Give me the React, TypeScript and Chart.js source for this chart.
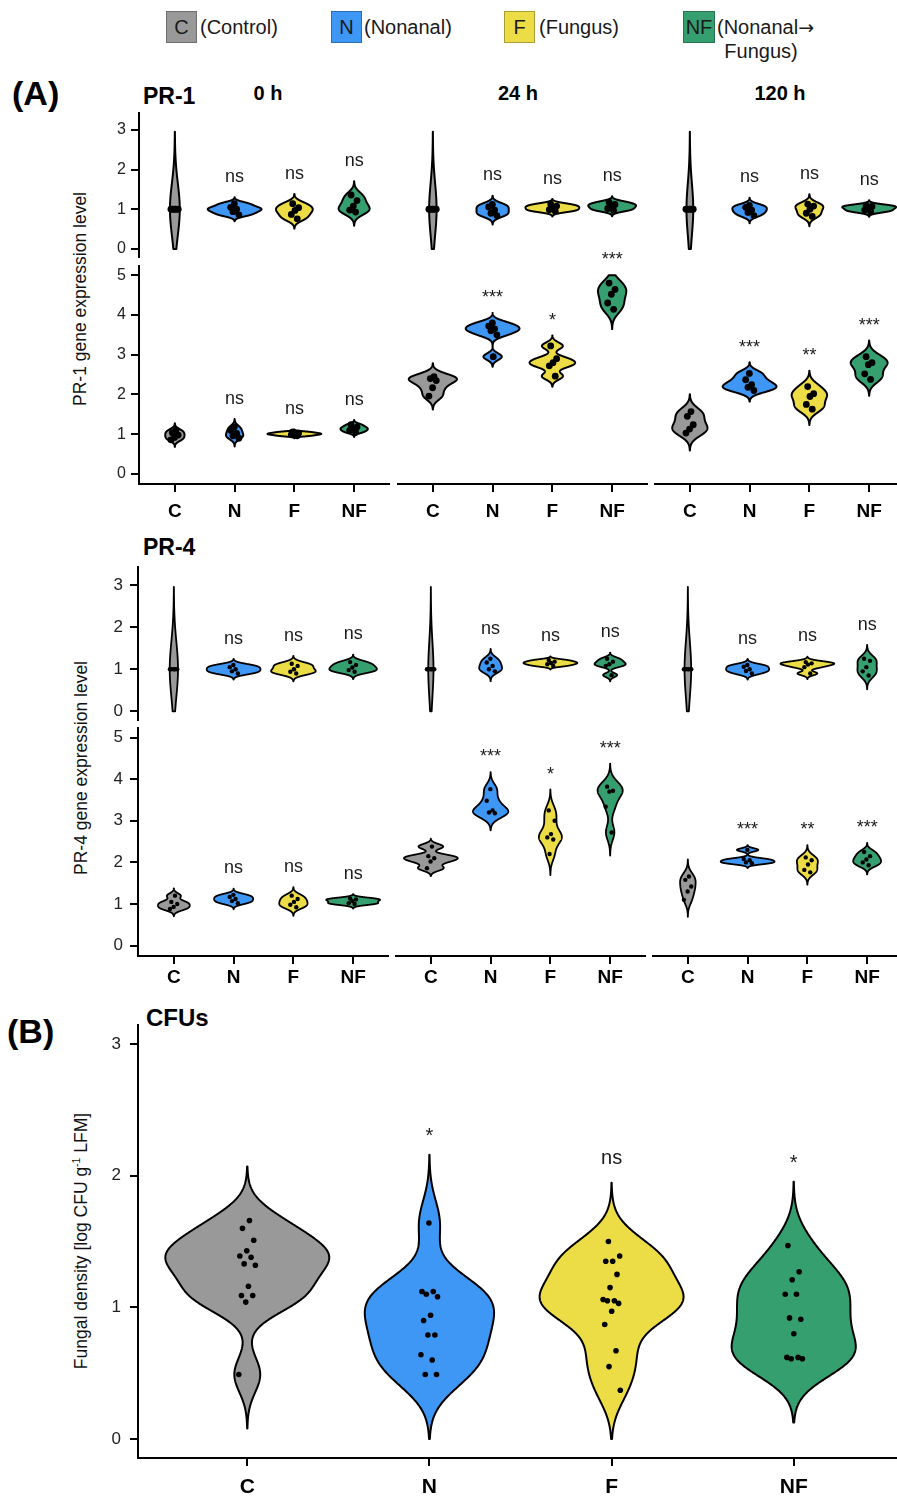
import React, { useEffect, useRef } from "react";
import { Chart, registerables } from "chart.js";

Chart.register(...registerables);

const FONT = '"Liberation Sans", Arial, Helvetica, sans-serif';

// ---------------- data ----------------
const CATEGORIES = ["C", "N", "F", "NF"];
const FILLS = ["#999999", "#3E96F5", "#ECDC46", "#369F6F"];
const LEGEND_TEXT = ["(Control)", "(Nonanal)", "(Fungus)"];
const TIME_LABELS = ["0 h", "24 h", "120 h"];
const UPPER_TICKS = [0, 1, 2, 3];
const LOWER_TICKS = [0, 1, 2, 3, 4, 5];
const CFU_TICKS = [0, 1, 2, 3];

// PR-1, upper (0–3) rows, groups C, N, F, NF
const PR1_UPPER_0H = [[1, 1, 1, 1, 1], [1.14, 1.05, 1.0, 0.94, 0.86], [1.14, 1.04, 0.97, 0.87, 0.76], [1.36, 1.22, 1.08, 0.98, 0.93]];
const PR1_UPPER_24H = [[1, 1, 1, 1, 1], [1.12, 1.06, 0.98, 0.9, 0.84], [1.13, 1.08, 1.04, 0.99, 0.95], [1.18, 1.12, 1.08, 1.02, 0.97]];
const PR1_UPPER_120H = [[1, 1, 1, 1, 1], [1.1, 1.05, 0.98, 0.92, 0.84], [1.13, 1.08, 1.0, 0.9, 0.82], [1.1, 1.07, 1.03, 0.98, 0.94]];
// PR-1, lower (0–5) rows
const PR1_LOWER_0H = [[1.1, 1.04, 0.98, 0.92, 0.86], [1.18, 1.1, 1.02, 0.96, 0.9], [1.06, 1.03, 1.01, 0.99, 0.96], [1.24, 1.18, 1.14, 1.1, 1.05]];
const PR1_LOWER_24H = [[2.45, 2.4, 2.35, 2.17, 1.96], [3.8, 3.72, 3.65, 3.6, 3.5, 2.95], [3.22, 2.9, 2.8, 2.72, 2.46], [4.8, 4.64, 4.52, 4.3, 4.14]];
const PR1_LOWER_120H = [[1.57, 1.45, 1.24, 1.13, 1.03], [2.53, 2.37, 2.25, 2.18, 2.1], [2.2, 2.02, 1.95, 1.75, 1.63], [2.95, 2.8, 2.75, 2.52, 2.38]];

// PR-4, upper rows
const PR4_UPPER_0H = [[1, 1, 1, 1, 1], [1.1, 1.05, 1.0, 0.95, 0.9], [1.13, 1.08, 1.0, 0.94, 0.9], [1.17, 1.1, 1.04, 0.98, 0.94]];
const PR4_UPPER_24H = [[1, 1, 1, 1, 1], [1.25, 1.16, 1.08, 1.0, 0.95], [1.22, 1.18, 1.15, 1.12, 1.08], [1.25, 1.18, 1.12, 1.08, 0.86]];
const PR4_UPPER_120H = [[1, 1, 1, 1, 1], [1.1, 1.06, 1.0, 0.96, 0.9], [1.17, 1.14, 1.11, 1.05, 0.9], [1.25, 1.2, 1.05, 0.95, 0.85]];
// PR-4, lower rows
const PR4_LOWER_0H = [[1.2, 1.05, 1.0, 0.93, 0.88], [1.22, 1.17, 1.12, 1.07, 1.02], [1.2, 1.12, 1.05, 0.98, 0.92], [1.13, 1.11, 1.07, 1.02, 1.0]];
const PR4_LOWER_24H = [[2.38, 2.15, 2.1, 2.02, 1.86], [3.76, 3.48, 3.25, 3.2, 3.18], [3.25, 3.0, 2.68, 2.6, 2.55, 2.2], [3.82, 3.72, 3.7, 3.34, 2.72]];
const PR4_LOWER_120H = [[1.66, 1.58, 1.42, 1.3, 1.1], [2.3, 2.08, 2.05, 2.0, 1.98], [2.12, 2.05, 1.95, 1.82, 1.76], [2.25, 2.15, 2.07, 2.0, 1.93]];

// CFUs (log CFU g-1 LFM)
const CFU_C = [1.66, 1.6, 1.51, 1.43, 1.39, 1.38, 1.33, 1.32, 1.16, 1.09, 1.09, 1.04, 0.49];
const CFU_N = [1.64, 1.12, 1.12, 1.1, 1.08, 0.94, 0.9, 0.79, 0.79, 0.64, 0.6, 0.49, 0.49];
const CFU_F = [1.5, 1.39, 1.35, 1.35, 1.25, 1.15, 1.06, 1.05, 1.05, 1.03, 0.97, 0.87, 0.67, 0.55, 0.37];
const CFU_NF = [1.47, 1.27, 1.21, 1.1, 1.1, 0.92, 0.91, 0.8, 0.62, 0.62, 0.61, 0.61];

// significance labels vs control
const SIG_UPPER = ["", "ns", "ns", "ns"];
const SIG_LOWER_0H = ["", "ns", "ns", "ns"];
const SIG_LOWER_24H = ["", "***", "*", "***"];
const SIG_LOWER_120H = ["", "***", "**", "***"];
const SIG_CFU = ["", "*", "ns", "*"];

// ---------------- violin math (ggplot-like: gaussian KDE, bw.nrd0, trim = FALSE, scale = "area") ----------------
function quantile7(sorted: number[], p: number) {
  const h = (sorted.length - 1) * p;
  const lo = Math.floor(h);
  const hi = Math.min(lo + 1, sorted.length - 1);
  return sorted[lo] + (h - lo) * (sorted[hi] - sorted[lo]);
}
function bwNrd0(vals: number[]) {
  const n = vals.length;
  const s = [...vals].sort((a, b) => a - b);
  const mean = vals.reduce((a, b) => a + b, 0) / n;
  const sd = Math.sqrt(vals.reduce((a, v) => a + (v - mean) * (v - mean), 0) / (n - 1));
  const iqr = quantile7(s, 0.75) - quantile7(s, 0.25);
  let lo = Math.min(sd, iqr / 1.34);
  if (!(lo > 1e-12)) lo = sd > 1e-12 ? sd : Math.abs(vals[0]) > 0 ? Math.abs(vals[0]) : 1;
  return 0.9 * lo * Math.pow(n, -0.2);
}
function violinShape(vals: number[], limLo: number, limHi: number) {
  const bw = bwNrd0(vals);
  const lo = Math.max(Math.min(...vals) - 3 * bw, limLo);
  const hi = Math.min(Math.max(...vals) + 3 * bw, limHi);
  const N = 300;
  const ys: number[] = [];
  const ds: number[] = [];
  const norm = 1 / (vals.length * bw * Math.sqrt(2 * Math.PI));
  for (let k = 0; k < N; k++) {
    const y = lo + ((hi - lo) * k) / (N - 1);
    let d = 0;
    for (const v of vals) {
      const z = (y - v) / bw;
      d += Math.exp(-0.5 * z * z);
    }
    ys.push(y);
    ds.push(d * norm);
  }
  return { ys, ds, hi };
}
const jitter = (j: number) => ((((j + 1) * 0.6180339887) % 1) - 0.5) * 2;

type PanelSpec = {
  groups: number[][];
  sig: string[];
  l: number; r: number; t: number; b: number;
  yMin: number; yMax: number; limLo: number; limHi: number;
  ticks: number[];
  showY: boolean; showX: boolean;
  pointRadius: number; jit: number;
  sigFont: number; sigGap: number;
  xFont: number; xPad: number; yFont: number; yPad: number;
  lineWidth: number;
};

function ViolinPanel({ spec }: { spec: PanelSpec }) {
  const ref = useRef<HTMLCanvasElement>(null);
  const YW = spec.showY ? 80 : 0;
  const XH = spec.showX ? 50 : 0;
  const PADT = 60;
  const cw = Math.round(YW + (spec.r - spec.l));
  const ch = Math.round(PADT + (spec.b - spec.t) + XH);

  useEffect(() => {
    const canvas = ref.current!;
    const shapes = spec.groups.map((g) => violinShape(g, spec.limLo, spec.limHi));
    let maxD = 0;
    shapes.forEach((s) => s.ds.forEach((d) => { if (d > maxD) maxD = d; }));

    const violinPlugin = {
      id: "violins",
      beforeDatasetsDraw(chart: any) {
        const { ctx, chartArea } = chart;
        const x = chart.scales.x;
        const y = chart.scales.y;
        ctx.save();
        ctx.beginPath();
        ctx.rect(chartArea.left, chartArea.top, chartArea.right - chartArea.left, chartArea.bottom - chartArea.top);
        ctx.clip();
        shapes.forEach((s, i) => {
          ctx.beginPath();
          for (let k = 0; k < s.ys.length; k++) {
            const px = x.getPixelForValue(i + (0.45 * s.ds[k]) / maxD);
            const py = y.getPixelForValue(s.ys[k]);
            if (k === 0) ctx.moveTo(px, py); else ctx.lineTo(px, py);
          }
          for (let k = s.ys.length - 1; k >= 0; k--) {
            const px = x.getPixelForValue(i - (0.45 * s.ds[k]) / maxD);
            const py = y.getPixelForValue(s.ys[k]);
            ctx.lineTo(px, py);
          }
          ctx.closePath();
          ctx.fillStyle = FILLS[i];
          ctx.fill();
          ctx.lineWidth = spec.lineWidth;
          ctx.lineJoin = "round";
          ctx.strokeStyle = "#000";
          ctx.stroke();
        });
        ctx.restore();
      },
      afterDatasetsDraw(chart: any) {
        const { ctx } = chart;
        const x = chart.scales.x;
        const y = chart.scales.y;
        ctx.save();
        ctx.fillStyle = "#1a1a1a";
        ctx.textAlign = "center";
        ctx.textBaseline = "alphabetic";
        ctx.font = `${spec.sigFont}px ${FONT}`;
        shapes.forEach((s, i) => {
          const lab = spec.sig[i];
          if (!lab) return;
          const cy = y.getPixelForValue(s.hi) - spec.sigGap;
          const isStar = lab.charAt(0) === "*";
          ctx.fillText(lab, x.getPixelForValue(i), cy + (isStar ? 0.57 : 0.26) * spec.sigFont);
        });
        ctx.restore();
      },
    };

    const datasets = spec.groups.map((vals, i) => ({
      type: "scatter" as const,
      data: vals.map((v, j) => ({ x: i + spec.jit * jitter(j + i * 3), y: v })),
      pointRadius: spec.pointRadius,
      pointHoverRadius: spec.pointRadius,
      pointBackgroundColor: "#000",
      pointBorderWidth: 0,
      borderWidth: 0,
    }));

    const tickGrid = { display: true, drawOnChartArea: false, drawTicks: true, tickLength: 8, lineWidth: 2, color: "#000" };
    const chart = new Chart(canvas, {
      type: "scatter",
      data: { datasets },
      options: {
        responsive: false,
        maintainAspectRatio: false,
        animation: false,
        events: [],
        layout: { padding: { top: PADT, left: 0, right: 0, bottom: 0 }, autoPadding: false },
        plugins: { legend: { display: false }, tooltip: { enabled: false }, title: { display: false } },
        scales: {
          x: {
            type: "linear",
            min: -0.6,
            max: 3.6,
            display: spec.showX,
            afterBuildTicks: (s: any) => { s.ticks = CATEGORIES.map((_, i) => ({ value: i })); },
            afterFit: (s: any) => { s.height = XH; s.paddingLeft = 0; s.paddingRight = 0; s.paddingTop = 0; s.paddingBottom = 0; },
            ticks: {
              callback: (v: any) => CATEGORIES[Math.round(Number(v))] ?? "",
              font: { family: FONT, size: spec.xFont, weight: "bold" },
              color: "#000",
              padding: spec.xPad,
              autoSkip: false,
              maxRotation: 0,
              minRotation: 0,
            },
            grid: tickGrid,
            border: { display: true, width: 2, color: "#000" },
          },
          y: {
            type: "linear",
            min: spec.yMin,
            max: spec.yMax,
            display: spec.showY,
            afterBuildTicks: (s: any) => { s.ticks = spec.ticks.map((v) => ({ value: v })); },
            afterFit: (s: any) => { s.width = YW; s.paddingTop = 0; s.paddingBottom = 0; s.paddingLeft = 0; s.paddingRight = 0; },
            ticks: {
              callback: (v: any) => String(v),
              font: { family: FONT, size: spec.yFont },
              color: "#222",
              padding: spec.yPad,
            },
            grid: tickGrid,
            border: { display: true, width: 2, color: "#000" },
          },
        },
      } as any,
      plugins: [violinPlugin],
    });
    return () => chart.destroy();
  }, []);

  return (
    <canvas
      ref={ref}
      width={cw}
      height={ch}
      style={{ position: "absolute", left: spec.l - YW, top: spec.t - PADT, width: cw, height: ch }}
    />
  );
}

// ---------------- layout helpers ----------------
const PANEL_W = 251;
const LOWER_SIGS = [SIG_LOWER_0H, SIG_LOWER_24H, SIG_LOWER_120H];

function geneSpecs(
  upper: number[][][],
  lower: number[][][],
  lefts: number[],
  upperRow: [number, number],
  lowerRow: [number, number],
  st: any
): PanelSpec[] {
  const out: PanelSpec[] = [];
  lefts.forEach((l, c) => {
    out.push({
      groups: upper[c], sig: SIG_UPPER, l, r: l + PANEL_W, t: upperRow[0], b: upperRow[1],
      yMin: -0.23, yMax: 3.43, limLo: 0, limHi: 3, ticks: UPPER_TICKS, showY: c === 0, showX: false, ...st,
    });
    out.push({
      groups: lower[c], sig: LOWER_SIGS[c], l, r: l + PANEL_W, t: lowerRow[0], b: lowerRow[1],
      yMin: -0.25, yMax: 5.23, limLo: 0, limHi: 5, ticks: LOWER_TICKS, showY: c === 0, showX: true, ...st,
    });
  });
  return out;
}

function Txt(props: { x: number; y: number; size: number; bold?: boolean; center?: boolean; children: any; color?: string }) {
  return (
    <div
      style={{
        position: "absolute",
        left: props.x,
        top: props.y,
        transform: props.center ? "translate(-50%,-50%)" : "translateY(-50%)",
        fontSize: props.size,
        fontWeight: props.bold ? 700 : 400,
        lineHeight: 1,
        whiteSpace: "nowrap",
        color: props.color ?? "#000",
      }}
    >
      {props.children}
    </div>
  );
}

function VTitle(props: { x: number; y: number; children: any }) {
  return (
    <div
      style={{
        position: "absolute",
        left: props.x,
        top: props.y,
        transform: "translate(-50%,-50%) rotate(-90deg)",
        fontSize: 17.5,
        lineHeight: 1,
        whiteSpace: "nowrap",
        color: "#111",
      }}
    >
      {props.children}
    </div>
  );
}

function LegendBox(props: { x: number; w: number; color: string; label: string }) {
  return (
    <div
      style={{
        position: "absolute",
        left: props.x,
        top: 11,
        width: props.w,
        height: 32,
        boxSizing: "border-box",
        background: props.color,
        border: "1px solid rgba(0,0,0,0.28)",
        display: "flex",
        alignItems: "center",
        justifyContent: "center",
        fontSize: 20,
        color: "#1a1a1a",
        lineHeight: 1,
      }}
    >
      {props.label}
    </div>
  );
}

export default function App() {
  const pr1 = geneSpecs(
    [PR1_UPPER_0H, PR1_UPPER_24H, PR1_UPPER_120H],
    [PR1_LOWER_0H, PR1_LOWER_24H, PR1_LOWER_120H],
    [139, 397, 654],
    [113, 258],
    [266, 484],
    { pointRadius: 3.4, jit: 0.08, sigFont: 18, sigGap: 20, xFont: 19, xPad: 8.5, yFont: 16, yPad: 5, lineWidth: 2 }
  );
  const pr4 = geneSpecs(
    [PR4_UPPER_0H, PR4_UPPER_24H, PR4_UPPER_120H],
    [PR4_LOWER_0H, PR4_LOWER_24H, PR4_LOWER_120H],
    [138, 395, 652],
    [567, 721],
    [728, 956],
    { pointRadius: 2.2, jit: 0.08, sigFont: 18, sigGap: 20, xFont: 19, xPad: 2.6, yFont: 17, yPad: 7, lineWidth: 1.8 }
  );
  const cfu: PanelSpec = {
    groups: [CFU_C, CFU_N, CFU_F, CFU_NF], sig: SIG_CFU,
    l: 138, r: 903, t: 1025, b: 1458,
    yMin: -0.144, yMax: 3.144, limLo: 0, limHi: 3, ticks: CFU_TICKS, showY: true, showX: true,
    pointRadius: 2.8, jit: 0.05, sigFont: 20, sigGap: 24, xFont: 21, xPad: 8.4, yFont: 17, yPad: 9, lineWidth: 2,
  };
  const panels = [...pr1, ...pr4, cfu];

  return (
    <div
      style={{
        position: "fixed",
        left: 0,
        top: 0,
        width: 897,
        height: 1498,
        overflow: "hidden",
        background: "#fff",
        fontFamily: FONT,
      }}
    >
      {/* legend */}
      <LegendBox x={166} w={31} color={FILLS[0]} label={CATEGORIES[0]} />
      <Txt x={200} y={27} size={20} color="#1a1a1a">{LEGEND_TEXT[0]}</Txt>
      <LegendBox x={331} w={31} color={FILLS[1]} label={CATEGORIES[1]} />
      <Txt x={364} y={27} size={20} color="#1a1a1a">{LEGEND_TEXT[1]}</Txt>
      <LegendBox x={504} w={31} color={FILLS[2]} label={CATEGORIES[2]} />
      <Txt x={539} y={27} size={20} color="#1a1a1a">{LEGEND_TEXT[2]}</Txt>
      <LegendBox x={683} w={32} color={FILLS[3]} label={CATEGORIES[3]} />
      <Txt x={717} y={27} size={20} color="#1a1a1a">
        (Nonanal<span style={{ fontFamily: '"DejaVu Sans", sans-serif', fontSize: 19 }}>→</span>
      </Txt>
      <Txt x={761} y={51} size={20} center color="#1a1a1a">Fungus)</Txt>

      {/* panel A headings */}
      <Txt x={12} y={93} size={34} bold>(A)</Txt>
      <Txt x={143} y={96} size={23} bold>PR-1</Txt>
      <Txt x={268} y={93} size={20} bold center>{TIME_LABELS[0]}</Txt>
      <Txt x={518} y={93} size={20} bold center>{TIME_LABELS[1]}</Txt>
      <Txt x={780} y={93} size={20} bold center>{TIME_LABELS[2]}</Txt>
      <VTitle x={81} y={299}>PR-1 gene expression level</VTitle>

      <Txt x={143} y={547} size={23} bold>PR-4</Txt>
      <VTitle x={82} y={768}>PR-4 gene expression level</VTitle>

      {/* panel B headings */}
      <Txt x={7} y={1031} size={34} bold>(B)</Txt>
      <Txt x={146} y={1018} size={24} bold>CFUs</Txt>
      <VTitle x={82} y={1241}>
        Fungal density [log CFU g
        <sup style={{ fontSize: "0.6em", lineHeight: 0, verticalAlign: "0.7em" }}>-1</sup> LFM]
      </VTitle>

      {panels.map((p, i) => (
        <ViolinPanel key={i} spec={p} />
      ))}
    </div>
  );
}
